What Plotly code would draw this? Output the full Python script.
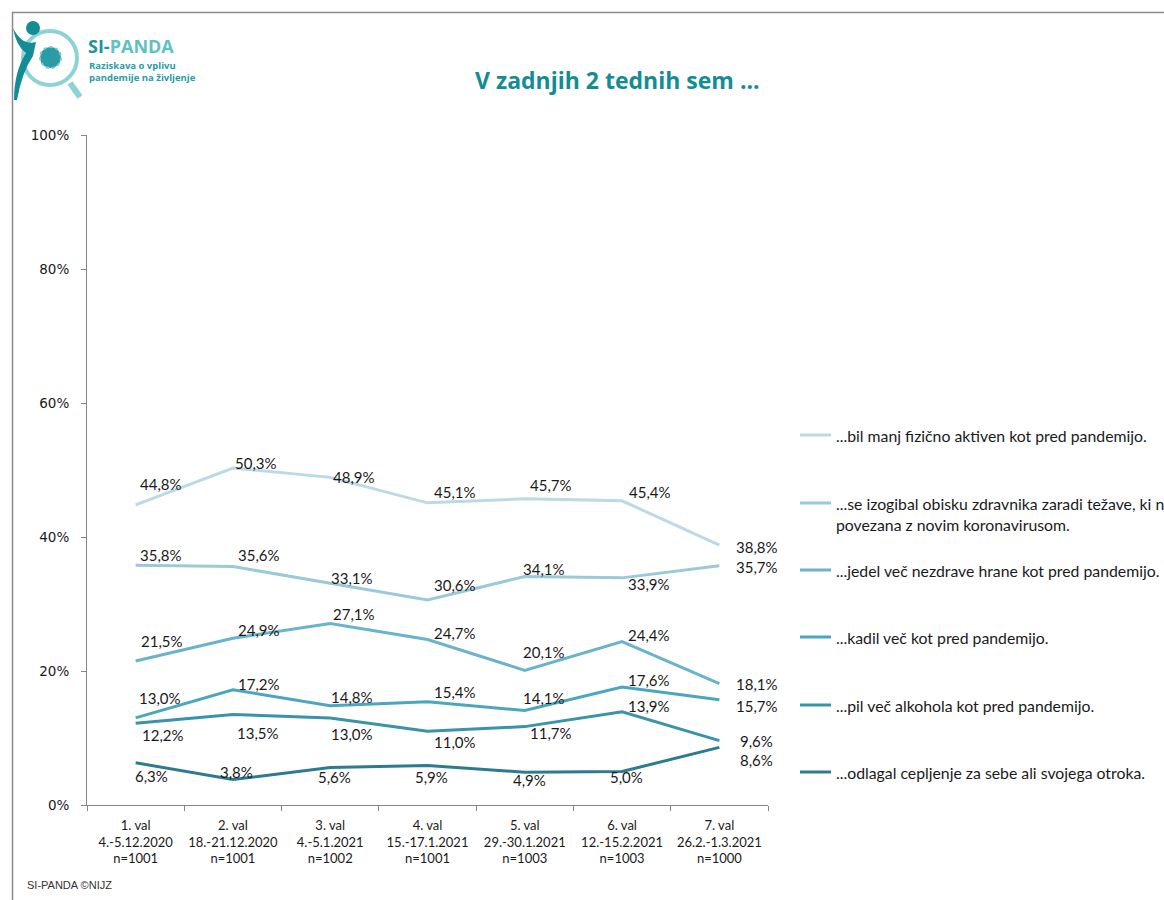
import plotly.graph_objects as go

# ---------------- data ----------------
categories = [
    "1. val<br>4.-5.12.2020<br>n=1001",
    "2. val<br>18.-21.12.2020<br>n=1001",
    "3. val<br>4.-5.1.2021<br>n=1002",
    "4. val<br>15.-17.1.2021<br>n=1001",
    "5. val<br>29.-30.1.2021<br>n=1003",
    "6. val<br>12.-15.2.2021<br>n=1003",
    "7. val<br>26.2.-1.3.2021<br>n=1000",
]
series_names = [
    "...bil manj fizično aktiven kot pred pandemijo.",
    "...se izogibal obisku zdravnika zaradi težave, ki ni<br>povezana z novim koronavirusom.",
    "...jedel več nezdrave hrane kot pred pandemijo.",
    "...kadil več kot pred pandemijo.",
    "...pil več alkohola kot pred pandemijo.",
    "...odlagal cepljenje za sebe ali svojega otroka.",
]
s1 = [44.8, 50.3, 48.9, 45.1, 45.7, 45.4, 38.8]
s2 = [35.8, 35.6, 33.1, 30.6, 34.1, 33.9, 35.7]
s3 = [21.5, 24.9, 27.1, 24.7, 20.1, 24.4, 18.1]
s4 = [13.0, 17.2, 14.8, 15.4, 14.1, 17.6, 15.7]
s5 = [12.2, 13.5, 13.0, 11.0, 11.7, 13.9, 9.6]
s6 = [6.3, 3.8, 5.6, 5.9, 4.9, 5.0, 8.6]
all_series = [s1, s2, s3, s4, s5, s6]
y_ticks = [0, 20, 40, 60, 80, 100]

# ---------------- style ----------------
colors = ["#BBDAE5", "#9CC9DA", "#69B4CB", "#4AA6C1", "#3A92AB", "#2D7B90"]
# label offsets (dx right, dy down) in pixels relative to each point
label_offsets = [
    [(25, -21), (23, -5), (24, 0), (27, -11), (26, -14), (28, -9), (38, 2)],
    [(25, -10), (26, -11), (22, -5), (27, -15), (19, -8), (27, 6), (38, 1)],
    [(26, -20), (26, -8), (24, -9), (27, -7), (19, -18), (27, -7), (38, 0)],
    [(24, -20), (26, -6), (22, -9), (27, -10), (19, -13), (27, -7), (38, 6)],
    [(27, 12), (25, 18), (22, 16), (27, 11), (26, 6), (27, -6), (37, 0)],
    [(16, 13), (4, -8), (4, 10), (4, 12), (5, 8), (4, 5), (37, 13)],
]
legend_y = [435, 503, 570, 637, 705, 772]

W, H = 1164, 900
L, R, T, B = 87, 768, 135, 805


def px(x):
    return (x - L) / (R - L)


def py(y):
    return (B - y) / (B - T)


LABEL_FONT = dict(family="Lato, Open Sans, sans-serif", size=15, color="#1a1a1a")

fig = go.Figure()
for name, vals, col in zip(series_names, all_series, colors):
    fig.add_trace(go.Scatter(
        x=categories, y=vals, mode="lines", name=name,
        line=dict(color=col, width=3), showlegend=False, hoverinfo="skip"))

annotations = []
for vals, offs in zip(all_series, label_offsets):
    for cat, v, (dx, dy) in zip(categories, vals, offs):
        annotations.append(dict(
            x=cat, y=v, xref="x", yref="y", showarrow=False,
            xanchor="center", yanchor="middle",
            text=f"{v:.1f}%".replace(".", ","), font=LABEL_FONT,
            xshift=dx, yshift=-dy))

# manual legend
shapes = []
for name, col, ly in zip(series_names, colors, legend_y):
    shapes.append(dict(type="line", xref="paper", yref="paper",
                       x0=px(800), x1=px(831), y0=py(ly), y1=py(ly),
                       line=dict(color=col, width=3)))
    annotations.append(dict(
        x=px(834), y=py(ly - 11), xref="paper", yref="paper",
        xanchor="left", yanchor="top", align="left", showarrow=False,
        text=name, font=dict(family="Lato, Open Sans, sans-serif", size=15.8, color="#1a1a1a")))

# title
annotations.append(dict(
    x=px(617), y=py(80), xref="paper", yref="paper", showarrow=False,
    xanchor="center", yanchor="middle",
    text="<b>V zadnjih 2 tednih sem ...</b>",
    font=dict(family="Open Sans, Lato, sans-serif", size=23, color="#138C96")))

# footer
annotations.append(dict(
    x=px(25), y=py(885), xref="paper", yref="paper", showarrow=False,
    xanchor="left", yanchor="middle", text="SI-PANDA ©NIJZ",
    font=dict(family="Liberation Sans Narrow, Liberation Sans, sans-serif", size=11, color="#333333")))

# logo texts
annotations.append(dict(
    x=px(86), y=py(46), xref="paper", yref="paper", showarrow=False,
    xanchor="left", yanchor="middle",
    text="<b><span style='color:#1B939C'>SI-</span><span style='color:#5FC0C5'>PANDA</span></b>",
    font=dict(family="Open Sans, sans-serif", size=18)))
annotations.append(dict(
    x=px(87), y=py(57), xref="paper", yref="paper", showarrow=False,
    xanchor="left", yanchor="top", align="left",
    text="<b>Raziskava o vplivu<br>pandemije na življenje</b>",
    font=dict(family="Open Sans, sans-serif", size=9.5, color="#2A9CA5")))

# frame
shapes.append(dict(type="line", xref="paper", yref="paper", x0=px(12), x1=px(1170),
                   y0=py(12.5), y1=py(12.5), line=dict(color="#8a8a8a", width=1.5)))
shapes.append(dict(type="line", xref="paper", yref="paper", x0=px(12.5), x1=px(12.5),
                   y0=py(12), y1=py(905), line=dict(color="#8a8a8a", width=1.5)))

# logo graphics
shapes.append(dict(type="circle", xref="paper", yref="paper",
                   x0=px(23), x1=px(77), y0=py(31), y1=py(85),
                   line=dict(color="#8FD2D5", width=4)))
shapes.append(dict(type="line", xref="paper", yref="paper",
                   x0=px(70), x1=px(80), y0=py(83), y1=py(97),
                   line=dict(color="#8FD2D5", width=6)))
shapes.append(dict(type="circle", xref="paper", yref="paper",
                   x0=px(40), x1=px(61), y0=py(47), y1=py(68),
                   fillcolor="#2A9CA5", line=dict(color="#7CC9CD", width=2, dash="dot")))
shapes.append(dict(type="circle", xref="paper", yref="paper",
                   x0=px(26), x1=px(40), y0=py(21), y1=py(35),
                   fillcolor="#138C96", line=dict(width=0)))
shapes.append(dict(type="path", xref="paper", yref="paper",
                   path=(f"M {px(13)},{py(28)} Q {px(22)},{py(46)} {px(36)},{py(42)} "
                         f"L {px(33)},{py(56)} Q {px(22)},{py(72)} {px(17)},{py(100)} "
                         f"L {px(14)},{py(100)} Q {px(14)},{py(72)} {px(26)},{py(53)} "
                         f"Q {px(16)},{py(46)} {px(13)},{py(28)} Z"),
                   fillcolor="#138C96", line=dict(width=0)))

fig.update_layout(
    width=W, height=H,
    margin=dict(l=L, r=W - R, t=T, b=H - B),
    paper_bgcolor="white", plot_bgcolor="white",
    showlegend=False,
    annotations=annotations, shapes=shapes,
    xaxis=dict(type="category", categoryorder="array", categoryarray=categories,
               range=[-0.5, 6.5], showline=True, linecolor="#868686", linewidth=1,
               ticks="outside", tickson="boundaries", ticklen=5, tickcolor="#868686",
               showgrid=False, zeroline=False, ticklabelstandoff=8,
               tickangle=0, automargin=False,
               tickfont=dict(family="Liberation Sans Narrow, Lato, sans-serif", size=13, color="#1a1a1a")),
    yaxis=dict(range=[0, 100], tickvals=y_ticks, ticktext=[f"{t}%" for t in y_ticks],
               showline=True, linecolor="#868686", linewidth=1,
               ticks="outside", ticklen=5, tickcolor="#868686",
               showgrid=False, zeroline=False, ticklabelstandoff=9, automargin=False,
               tickfont=dict(family="DejaVu Sans, Verdana, sans-serif", size=13.5, color="#1a1a1a")),
)

fig.write_html("out.html")
